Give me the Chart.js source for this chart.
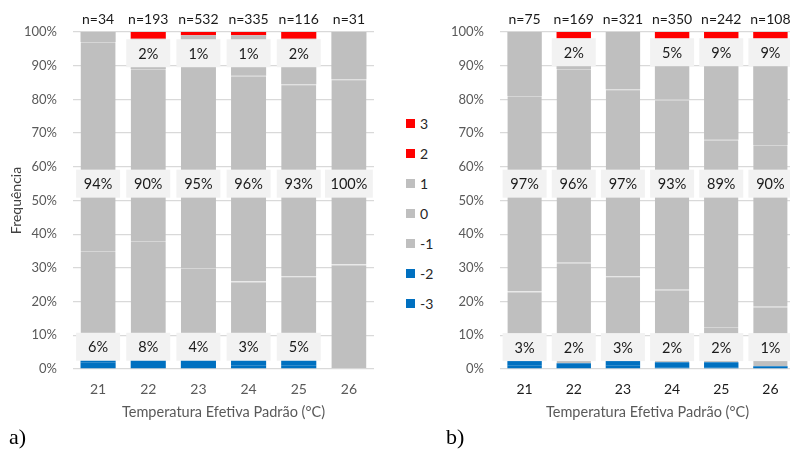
<!DOCTYPE html>
<html>
<head>
<meta charset="utf-8">
<script src="https://cdn.jsdelivr.net/npm/chart.js@4"></script>
<style>
  html, body { margin: 0; padding: 0; background: #fff; }
  #wrap { position: relative; width: 790px; height: 449px; overflow: hidden; background: #fff; font-family: Lato, sans-serif; }
  canvas { position: absolute; top: 0; }
  #chartA { left: 0; }
  #chartB { left: 440px; }
  .tag { position: absolute; font-family: "Liberation Serif", serif; font-size: 22px; line-height: 22px; color: #000; }
  .leg { position: absolute; left: 406px; font-size: 14px; color: #262626; line-height: 14px; }
  .leg span { display: inline-block; width: 9px; height: 9px; margin-right: 5px; vertical-align: 1px; }
</style>
</head>
<body>
<div id="wrap">
  <canvas id="chartA" width="390" height="430"></canvas>
  <canvas id="chartB" width="360" height="430"></canvas>
  <div id="legend"></div>
  <div class="tag" style="left:9px; top:426px;">a)</div>
  <div class="tag" style="left:446px; top:426px;">b)</div>
</div>
<script>
// categories and series (sensacao termica -3..3), values in %
const CATEGORIES = ['21', '22', '23', '24', '25', '26'];
const SERIES = ['-3', '-2', '-1', '0', '1', '2', '3'];
const COLORS = ['#0070C0', '#0070C0', '#BFBFBF', '#BFBFBF', '#BFBFBF', '#FF0000', '#FF0000'];

// panel a)
const A_M3 = [2, 3, 1.5, 1, 1, 0];
const A_M2 = [4, 5, 2.5, 2, 4, 0];
const A_M1 = [29, 30, 26, 23, 22.5, 31];
const A_Z0 = [62, 51, 63, 61, 57, 55];
const A_P1 = [3, 9, 6, 12, 13.5, 14];
const A_P2 = [0, 2, 1, 1, 2, 0];
const A_P3 = [0, 0, 0, 0, 0, 0];
const A_N = [34, 193, 532, 335, 116, 31];
const A_COLD = ['6%', '8%', '4%', '3%', '5%', null];
const A_MID = ['94%', '90%', '95%', '96%', '93%', '100%'];
const A_WARM = [null, '2%', '1%', '1%', '2%', null];

// panel b)
const B_M3 = [1, 0, 1, 0.5, 0.5, 0];
const B_M2 = [2, 1.7, 2, 1.5, 1.5, 0.8];
const B_M1 = [20, 29.8, 24.5, 21.5, 10.5, 17.7];
const B_Z0 = [58, 57.5, 55.5, 56.5, 55.5, 48];
const B_P1 = [19, 9, 17, 15, 23, 24.5];
const B_P2 = [0, 2, 0, 5, 9, 9];
const B_P3 = [0, 0, 0, 0, 0, 0];
const B_N = [75, 169, 321, 350, 242, 108];
const B_COLD = ['3%', '2%', '3%', '2%', '2%', '1%'];
const B_MID = ['97%', '96%', '97%', '93%', '89%', '90%'];
const B_WARM = [null, '2%', null, '5%', '9%', '9%'];

const FONT = 'Lato';

// grey boxes with the grouped percentages + n= on top
const labelBoxes = {
  id: 'labelBoxes',
  afterDatasetsDraw(chart, args, opts) {
    const ctx = chart.ctx, x = chart.scales.x, y = chart.scales.y;
    ctx.save();
    ctx.textAlign = 'center';
    ctx.textBaseline = 'middle';
    ctx.font = '14.5px ' + FONT;
    opts.rows.forEach(row => {
      row.labels.forEach((t, i) => {
        if (!t) return;
        const cx = x.getPixelForValue(i), cy = y.getPixelForValue(row.at);
        const w = Math.max(44, ctx.measureText(t).width + 11), h = 28;
        ctx.fillStyle = '#F2F2F2';
        ctx.fillRect(cx - w / 2, cy - h / 2, w, h);
        ctx.fillStyle = '#1a1a1a';
        ctx.fillText(t, cx, cy + 1);
      });
    });
    ctx.font = '14px ' + FONT;
    ctx.fillStyle = '#1a1a1a';
    opts.n.forEach((n, i) => ctx.fillText('n=' + n, x.getPixelForValue(i), 19));
    ctx.restore();
  }
};

function makeDatasets(vals){
  return vals.map((v, k) => ({
    label: SERIES[k],
    data: v,
    backgroundColor: COLORS[k],
    borderColor: '#D6D6D6',
    borderWidth: (k === 2 || k === 3) ? {top: 1, right: 0, bottom: 0, left: 0} : 0,
    categoryPercentage: 1,
    barPercentage: 0.7
  }));
}

function makeChart(id, vals, nArr, rows, cfg){
  return new Chart(document.getElementById(id), {
    type: 'bar',
    data: {labels: CATEGORIES, datasets: makeDatasets(vals)},
    plugins: [labelBoxes],
    options: {
      responsive: false,
      animation: false,
      layout: {padding: {top: 32, right: cfg.padRight, bottom: 0, left: 0}},
      plugins: {
        legend: {display: false},
        tooltip: {enabled: false},
        labelBoxes: {rows: rows, n: nArr}
      },
      scales: {
        x: {
          stacked: true,
          grid: {display: false, drawTicks: false},
          border: {display: false},
          ticks: {color: cfg.xTickColor, font: {family: FONT, size: 14}, padding: 12},
          title: {display: true, text: 'Temperatura Efetiva Padrão (°C)', color: '#595959',
                  font: {family: FONT, size: 14.5}, padding: {top: 0, bottom: 9}},
          afterFit: s => { s.height = 61; }
        },
        y: {
          stacked: true,
          min: 0, max: 100,
          grid: {color: '#D9D9D9', lineWidth: 1.3, drawTicks: false},
          border: {display: false},
          ticks: {stepSize: 10, color: '#595959', font: {family: FONT, size: 13}, padding: 16,
                  callback: v => v + '%'},
          title: {display: cfg.yTitle, text: 'Frequência', color: '#404040',
                  font: {family: FONT, size: 14}, padding: {top: 8, bottom: 0}},
          afterFit: s => { s.width = cfg.yWidth; }
        }
      }
    }
  });
}

function buildLegend(){
  const box = document.getElementById('legend');
  SERIES.slice().reverse().forEach((name, j) => {
    const k = SERIES.length - 1 - j;
    const d = document.createElement('div');
    d.className = 'leg';
    d.style.top = (117 + j * 30) + 'px';
    d.innerHTML = '<span style="background:' + COLORS[k] + '"></span>' + name;
    box.appendChild(d);
  });
}

function init(){
  buildLegend();
  makeChart('chartA', [A_M3, A_M2, A_M1, A_Z0, A_P1, A_P2, A_P3], A_N,
    [{labels: A_COLD, at: 6.6}, {labels: A_MID, at: 55}, {labels: A_WARM, at: 93.7}],
    {padRight: 16, yWidth: 73, yTitle: true, xTickColor: '#595959'});
  makeChart('chartB', [B_M3, B_M2, B_M1, B_Z0, B_P1, B_P2, B_P3], B_N,
    [{labels: B_COLD, at: 6.5}, {labels: B_MID, at: 55}, {labels: B_WARM, at: 94}],
    {padRight: 5, yWidth: 60, yTitle: false, xTickColor: '#1a1a1a'});
}

document.fonts.load('14px ' + FONT).then(init, init);
</script>
</body>
</html>
